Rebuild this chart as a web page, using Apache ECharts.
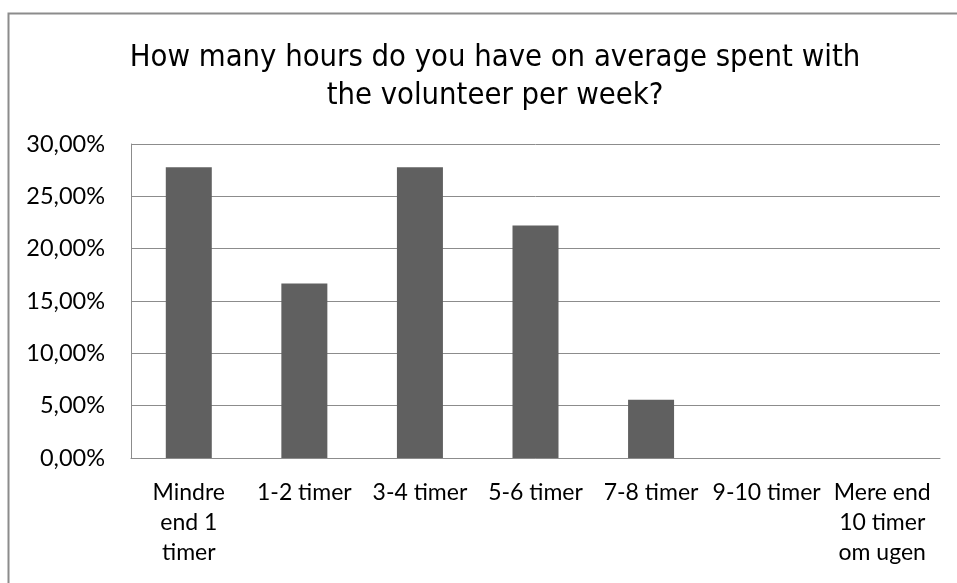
<!DOCTYPE html>
<html>
<head>
<meta charset="utf-8">
<script src="https://cdn.jsdelivr.net/npm/echarts@6/dist/echarts.min.js"></script>
<style>
html,body{margin:0;padding:0;background:#fff;}
#chart{width:957px;height:583px;}
</style>
</head>
<body>
<div id="chart"></div>
<script>
var categories = ["Mindre end 1 timer", "1-2 timer", "3-4 timer", "5-6 timer", "7-8 timer", "9-10 timer", "Mere end 10 timer om ugen"];
var tickLabels = ["Mindre\nend 1\ntimer", "1-2 timer", "3-4 timer", "5-6 timer", "7-8 timer", "9-10 timer", "Mere end\n10 timer\nom ugen"];
var values = [27.78, 16.67, 27.78, 22.22, 5.56, 0, 0];
var titleText = "How many hours do you have on average spent with\nthe volunteer per week?";

var chart = echarts.init(document.getElementById('chart'), null, {renderer: 'canvas'});
chart.setOption({
  animation: false,
  backgroundColor: '#fff',
  title: {
    text: titleText,
    left: 490,
    textAlign: 'center',
    top: 34,
    textStyle: {fontFamily: 'DejaVu Sans Condensed', fontWeight: 'normal', fontSize: 30.7, color: '#000', lineHeight: 38}
  },
  graphic: [{
    type: 'rect',
    shape: {x: 8.5, y: 13.5, width: 1000, height: 700},
    style: {fill: 'none', stroke: '#8c8c8c', lineWidth: 2},
    silent: true,
    z: 100
  }],
  grid: {left: 131, right: 17, top: 144, bottom: 125, containLabel: false},
  xAxis: {
    type: 'category',
    data: categories,
    axisLine: {show: true, lineStyle: {color: '#8c8c8c', width: 1}},
    axisTick: {show: false},
    axisLabel: {
      interval: 0,
      margin: 20,
      color: '#000',
      fontFamily: 'Lato',
      fontSize: 23,
      lineHeight: 30,
      formatter: function (v, i) { return tickLabels[i]; }
    }
  },
  yAxis: {
    type: 'value',
    min: 0,
    max: 30,
    interval: 5,
    axisLine: {show: true, lineStyle: {color: '#8c8c8c', width: 1}},
    axisTick: {show: false},
    splitLine: {show: true, lineStyle: {color: '#8c8c8c', width: 1}},
    axisLabel: {
      margin: 26,
      color: '#000',
      fontFamily: 'Lato',
      fontSize: 23.5,
      formatter: function (v) { return v.toFixed(2).replace('.', ',') + '%'; }
    }
  },
  series: [{
    type: 'bar',
    data: values,
    barWidth: 46,
    itemStyle: {color: '#606060'}
  }]
});
</script>
</body>
</html>
